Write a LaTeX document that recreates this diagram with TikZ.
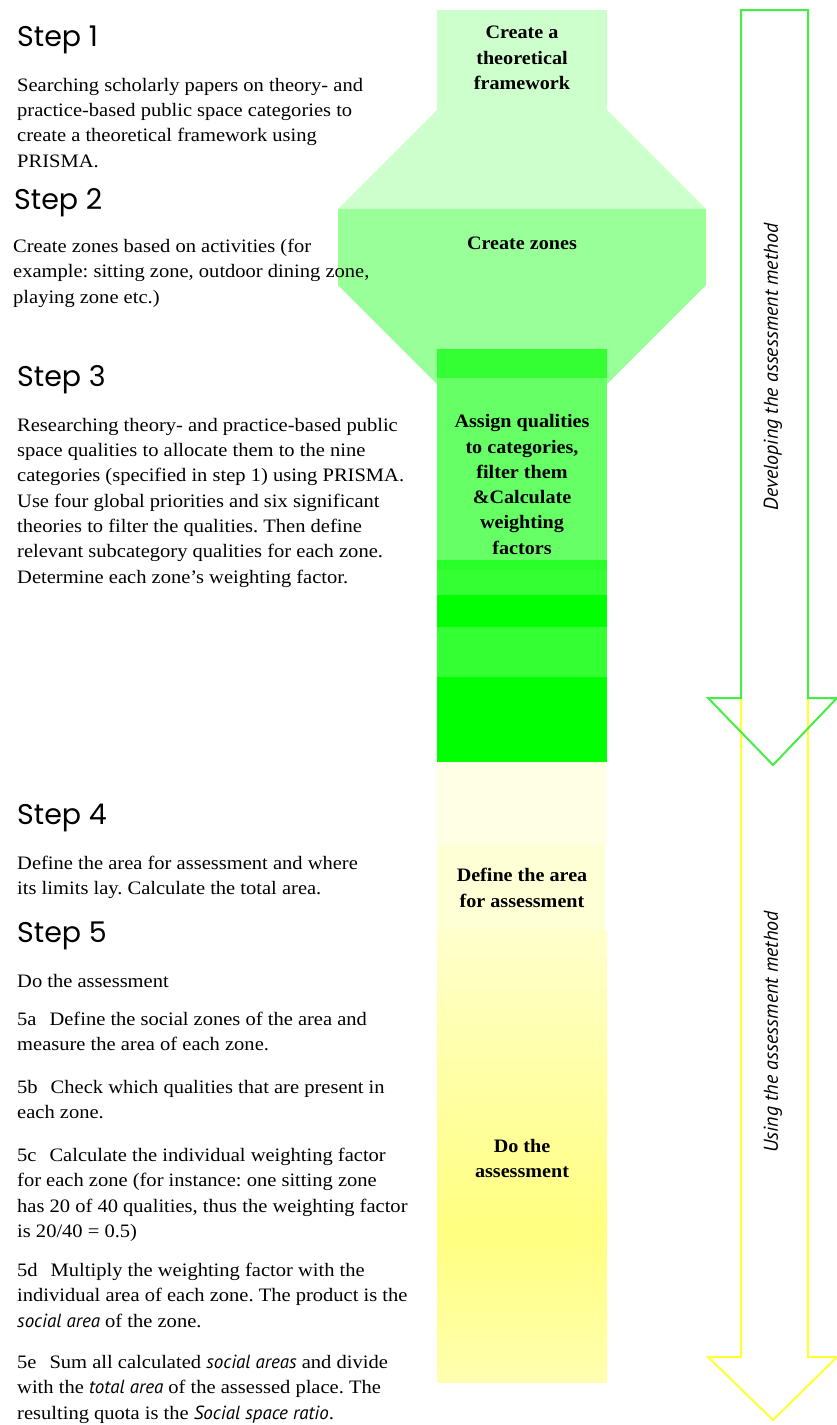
\documentclass[tikz,border=0pt]{standalone}
\usepackage{fontspec}
\setmainfont{Liberation Serif}[FakeStretch=1.08]
\newfontfamily\boxfont{Liberation Serif}[FakeStretch=1.06]
\newfontfamily\stepfont{Poppins}
\newfontfamily\arrowfont{PT Sans}
\definecolor{paleframe}{HTML}{CCFFCC}
\definecolor{palezone}{HTML}{99FF99}
\definecolor{greenA}{HTML}{33FF33}
\definecolor{greenB}{HTML}{66FF66}
\definecolor{greenC}{HTML}{00FF00}
\definecolor{greenD}{HTML}{29FF29}
\definecolor{creamA}{HTML}{FFFFE6}
\definecolor{creamB}{HTML}{FFFFD6}
\definecolor{yellowtop}{HTML}{FFFFCC}
\definecolor{yellowmid}{HTML}{FFFF80}
\definecolor{yellowbot}{HTML}{FFFFB0}
\definecolor{arrowgreen}{HTML}{44EE44}
\definecolor{arrowyellow}{HTML}{FFFF33}
\tikzset{
  steptitle/.style={anchor=west, inner sep=0pt, font=\stepfont\fontsize{28.5}{30}\selectfont},
  steptext/.style={anchor=north west, inner sep=0pt, align=left, font=\frenchspacing\fontsize{19}{25.3}\selectfont},
  boxlabel/.style={inner sep=0pt, align=center, font=\boxfont\bfseries\fontsize{19}{25.3}\selectfont},
  arrowlabel/.style={rotate=90, inner sep=0pt, font=\arrowfont\itshape\fontsize{20}{22}\selectfont},
  arrowline/.style={line width=2pt, line join=miter}
}
\newcommand{\ital}[1]{{\arrowfont\itshape #1}}
\newcommand{\substep}[1]{#1\hspace{13pt}}
\begin{document}
\begin{tikzpicture}[x=1pt,y=-1pt]
\useasboundingbox (0,0) rectangle (837,1425);

% Drawing the funnel
\fill [paleframe] (437,10) -- (607,10) -- (607,110) -- (706,209) -- (338,209) -- (437,110) -- cycle;
\fill [palezone] (338,209) -- (706,209) -- (706,285) -- (607,384) -- (437,384) -- (338,285) -- cycle;

% Drawing the green column
\fill [greenA] (437,349) rectangle (607,378);
\fill [greenB] (437,378) rectangle (607,560);
\fill [greenD] (437,560) rectangle (607,570);
\fill [greenA] (437,570) rectangle (607,595);
\fill [greenC] (437,595) rectangle (607,627);
\fill [greenA] (437,627) rectangle (607,677);
\fill [greenC] (437,677) rectangle (607,762);

% Drawing the yellow column
\fill [creamA] (437,762) rectangle (607,845);
\fill [creamB] (437,845) rectangle (605,930);
\shade [top color=yellowtop, bottom color=yellowmid] (437,930) rectangle (607,1230);
\shade [top color=yellowmid, bottom color=yellowbot] (437,1230) rectangle (607,1382);

% Marking the box labels
\node [boxlabel] (frame) at (522,58) {Create a\\theoretical\\framework};
\node [boxlabel] (zones) at (522,243) {Create zones};
\node [boxlabel] (assign) at (522,484.5) {Assign qualities\\to categories,\\filter them\\\&Calculate\\weighting\\factors};
\node [boxlabel] (define) at (522,888) {Define the area\\for assessment};
\node [boxlabel] (doit) at (522,1158.5) {Do the\\assessment};

% Drawing arrow using
\draw [arrowline, arrowyellow] (741,698) -- (741,1357) -- (708,1357) -- (773,1420) -- (837,1357) -- (808,1357) -- (808,698);
% Drawing arrow developing
\draw [arrowline, arrowgreen] (741,10) -- (808,10) -- (808,698) -- (837,698) -- (773,765) -- (708,698) -- (741,698) -- cycle;
\node [arrowlabel] (developing) at (773,367) {Developing the assessment method};
\node [arrowlabel] (using) at (773,1032) {Using the assessment method};

% Marking the steps
\node [steptitle] (step1) at (17,40) {Step 1};
\node [steptext] (text1) at (17,78) {Searching scholarly papers on theory- and\\practice-based public space categories to\\create a theoretical framework using\\PRISMA.};
\node [steptitle] (step2) at (14,203) {Step 2};
\node [steptext] (text2) at (13,239) {Create zones based on activities (for\\example: sitting zone, outdoor dining zone,\\playing zone etc.)};
\node [steptitle] (step3) at (17,380) {Step 3};
\node [steptext] (text3) at (17,418) {Researching theory- and practice-based public\\space qualities to allocate them to the nine\\categories (specified in step 1) using PRISMA.\\Use four global priorities and six significant\\theories to filter the qualities. Then define\\relevant subcategory qualities for each zone.\\Determine each zone{\char"0027}s weighting factor.};
\node [steptitle] (step4) at (17,818) {Step 4};
\node [steptext] (text4) at (17,856) {Define the area for assessment and where\\its limits lay. Calculate the total area.};
\node [steptitle] (step5) at (17,936) {Step 5};
\node [steptext] (text5) at (17,974) {Do the assessment};
\node [steptext] (text5a) at (17,1012) {\substep{5a}Define the social zones of the area and\\measure the area of each zone.};
\node [steptext] (text5b) at (17,1080) {\substep{5b}Check which qualities that are present in\\each zone.};
\node [steptext] (text5c) at (17,1148) {\substep{5c}Calculate the individual weighting factor\\for each zone (for instance: one sitting zone\\has 20 of 40 qualities, thus the weighting factor\\is 20/40 = 0.5)};
\node [steptext] (text5d) at (17,1263) {\substep{5d}Multiply the weighting factor with the\\individual area of each zone. The product is the\\\ital{social area} of the zone.};
\node [steptext] (text5e) at (17,1355) {\substep{5e}Sum all calculated \ital{social areas} and divide\\with the \ital{total area} of the assessed place. The\\resulting quota is the \ital{Social space ratio}.};
\end{tikzpicture}
\end{document}
